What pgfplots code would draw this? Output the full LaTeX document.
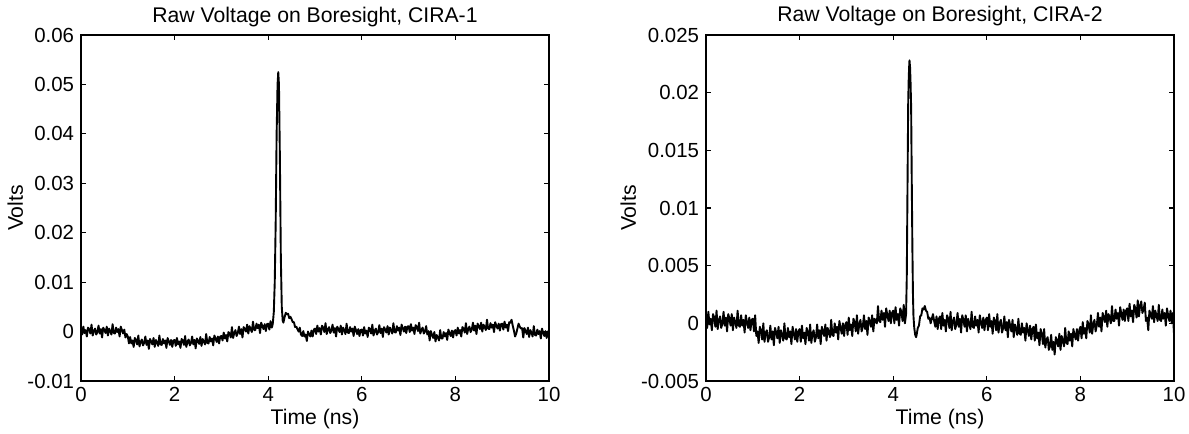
\documentclass[border=0pt]{standalone}
\usepackage{fontspec}
\setmainfont{Liberation Sans}
\usepackage{pgfplots}
\pgfplotsset{compat=1.18}
\begin{document}
\begin{tikzpicture}
\pgfplotsset{
  matlab/.style={
    scale only axis, width=234bp, height=173bp,
    xmin=0, xmax=10, xtick={0,2,4,6,8,10},
    axis line style={line width=0.8bp},
    every tick/.style={black, line width=0.6bp},
    major tick length=2.5bp,
    tick align=inside,
    tick label style={font=\fontsize{10.2bp}{12bp}\selectfont},
    /pgf/number format/assume math mode=true,
    scaled y ticks=false,
    yticklabel style={/pgf/number format/fixed, /pgf/number format/precision=3},
    xticklabel style={anchor=base, yshift=-10.25bp},
    every axis title shift=0pt,
    title style={at={(axis description cs:0.5,1)}, anchor=base, yshift=6.5bp, font=\fontsize{10.6bp}{12bp}\selectfont},
    xlabel style={at={(axis description cs:0.5,0)}, anchor=base, yshift=-21.5bp, font=\fontsize{10.6bp}{12bp}\selectfont},
    ylabel style={anchor=center, font=\fontsize{10.6bp}{12bp}\selectfont},
  }
}
\begin{axis}[matlab, at={(0,0)}, anchor=south west,
  ymin=-0.01, ymax=0.06, ytick={-0.01,0,0.01,0.02,0.03,0.04,0.05,0.06},
  title={Raw Voltage on Boresight, CIRA-1},
  xlabel={Time (ns)}, ylabel={Volts},
  ylabel style={at={(axis description cs:-0.1404,0.5)}}]
\addplot[black, line width=0.95bp, line join=round, mark=none] coordinates {
(0,0.0006)(0.025,-0.0006)(0.05,0.0010)(0.075,-0.0003)(0.1,0.0003)(0.125,-0.0010)(0.15,0.0008)(0.175,0.0005)(0.2,-0.0004)(0.225,0.0014)(0.25,-0.0008)(0.275,0.0001)(0.3,0.0006)(0.325,-0.0006)(0.35,-0.0001)(0.375,0.0012)(0.4,-0.0004)(0.425,0.0005)(0.45,-0.0012)(0.475,0.0008)(0.5,0.0003)(0.525,-0.0003)(0.55,0.0010)(0.575,-0.0008)(0.6,0.0006)(0.625,0.0001)(0.65,-0.0006)(0.675,0.0015)(0.7,-0.0003)(0.725,-0.0004)(0.75,0.0008)(0.775,-0.0001)(0.8,0.0005)(0.825,-0.0010)(0.85,0.0010)(0.875,0.0003)(0.9,-0.0004)(0.925,0.0004)(0.95,-0.0012)(0.975,-0.0005)
(1,-0.0010)(1.025,-0.0024)(1.05,-0.0011)(1.075,-0.0024)(1.1,-0.0018)(1.125,-0.0031)(1.15,-0.0013)(1.175,-0.0017)(1.2,-0.0026)(1.225,-0.0008)(1.25,-0.0030)(1.275,-0.0021)(1.3,-0.0016)(1.325,-0.0028)(1.35,-0.0023)(1.375,-0.0010)(1.4,-0.0027)(1.425,-0.0018)(1.45,-0.0035)(1.475,-0.0015)(1.5,-0.0020)(1.525,-0.0026)(1.55,-0.0013)(1.575,-0.0031)(1.6,-0.0017)(1.625,-0.0022)(1.65,-0.0029)(1.675,-0.0008)(1.7,-0.0026)(1.725,-0.0027)(1.75,-0.0015)(1.775,-0.0024)(1.8,-0.0018)(1.825,-0.0033)(1.85,-0.0013)(1.875,-0.0020)(1.9,-0.0027)(1.925,-0.0017)(1.95,-0.0031)(1.975,-0.0018)
(2,-0.0017)(2.025,-0.0029)(2.05,-0.0013)(2.075,-0.0026)(2.1,-0.0020)(2.125,-0.0033)(2.15,-0.0015)(2.175,-0.0018)(2.2,-0.0027)(2.225,-0.0009)(2.25,-0.0031)(2.275,-0.0021)(2.3,-0.0016)(2.325,-0.0028)(2.35,-0.0023)(2.375,-0.0010)(2.4,-0.0026)(2.425,-0.0017)(2.45,-0.0034)(2.475,-0.0014)(2.5,-0.0019)(2.525,-0.0025)(2.55,-0.0011)(2.575,-0.0029)(2.6,-0.0015)(2.625,-0.0020)(2.65,-0.0026)(2.675,-0.0005)(2.7,-0.0023)(2.725,-0.0024)(2.75,-0.0011)(2.775,-0.0020)(2.8,-0.0014)(2.825,-0.0028)(2.85,-0.0008)(2.875,-0.0014)(2.9,-0.0021)(2.925,-0.0010)(2.95,-0.0024)(2.975,-0.0010)
(3,-0.0009)(3.025,-0.0018)(3.05,-0.0002)(3.075,-0.0014)(3.1,-0.0007)(3.125,-0.0020)(3.15,-0.0001)(3.175,-0.0004)(3.2,-0.0012)(3.225,0.0009)(3.25,-0.0013)(3.275,-0.0003)(3.3,0.0003)(3.325,-0.0009)(3.35,-0.0003)(3.375,0.0010)(3.4,-0.0005)(3.425,0.0005)(3.45,-0.0012)(3.475,0.0009)(3.5,0.0005)(3.525,0)(3.55,0.0014)(3.575,-0.0004)(3.6,0.0011)(3.625,0.0005)(3.65,-0.0001)(3.675,0.0020)(3.7,0.0003)(3.725,0.0003)(3.75,0.0016)(3.775,0.0007)(3.8,0.0014)(3.825,-0.0003)(3.85,0.0018)(3.875,0.0011)(3.9,0.0005)(3.925,0.0015)(3.95,0.0001)(3.975,0.0015)
(4,0.0016)(4.025,0.0004)(4.05,0.0021)(4.075,0.0008)(4.09,0.0012)(4.1,0.0018)(4.12,0.0040)(4.14,0.0100)(4.16,0.0220)(4.18,0.0400)(4.2,0.0500)(4.215,0.0525)(4.23,0.0500)(4.25,0.0350)(4.27,0.0150)(4.29,0.0050)(4.31,0.0022)(4.325,0.0018)(4.35,0.0029)(4.375,0.0038)(4.4,0.0035)(4.425,0.0036)(4.45,0.0027)(4.475,0.0030)(4.5,0.0025)(4.525,0.0019)(4.55,0.0019)(4.575,0.0009)(4.6,0.0010)(4.625,0.0005)(4.65,0)(4.675,0.0008)(4.7,-0.0006)(4.725,-0.0009)(4.75,0.0001)(4.775,-0.0010)(4.8,-0.0006)(4.825,-0.0019)(4.85,0)(4.875,-0.0005)(4.9,-0.0010)(4.925,0.0002)(4.95,-0.0010)(4.975,0.0004)
(5,0.0006)(5.025,-0.0005)(5.05,0.0012)(5.075,0)(5.1,0.0007)(5.125,-0.0006)(5.15,0.0012)(5.175,0.0008)(5.2,-0.0001)(5.225,0.0017)(5.25,-0.0005)(5.275,0.0004)(5.3,0.0009)(5.325,-0.0003)(5.35,0.0002)(5.375,0.0014)(5.4,-0.0002)(5.425,0.0007)(5.45,-0.0010)(5.475,0.0010)(5.5,0.0005)(5.525,-0.0001)(5.55,0.0012)(5.575,-0.0006)(5.6,0.0008)(5.625,0.0003)(5.65,-0.0005)(5.675,0.0016)(5.7,-0.0002)(5.725,-0.0003)(5.75,0.0009)(5.775,0)(5.8,0.0006)(5.825,-0.0009)(5.85,0.0010)(5.875,0.0003)(5.9,-0.0005)(5.925,0.0005)(5.95,-0.0009)(5.975,0.0003)
(6,0.0004)(6.025,-0.0008)(6.05,0.0009)(6.075,-0.0004)(6.1,0.0002)(6.125,-0.0011)(6.15,0.0008)(6.175,0.0005)(6.2,-0.0004)(6.225,0.0014)(6.25,-0.0008)(6.275,0.0001)(6.3,0.0006)(6.325,-0.0006)(6.35,-0.0001)(6.375,0.0013)(6.4,-0.0003)(6.425,0.0006)(6.45,-0.0011)(6.475,0.0009)(6.5,0.0004)(6.525,-0.0002)(6.55,0.0011)(6.575,-0.0006)(6.6,0.0008)(6.625,0.0003)(6.65,-0.0004)(6.675,0.0017)(6.7,-0.0001)(6.725,-0.0002)(6.75,0.0011)(6.775,0.0002)(6.8,0.0008)(6.825,-0.0007)(6.85,0.0014)(6.875,0.0007)(6.9,0)(6.925,0.0010)(6.95,-0.0003)(6.975,0.0010)
(7,0.0011)(7.025,-0.0001)(7.05,0.0015)(7.075,0.0002)(7.1,0.0008)(7.125,-0.0005)(7.15,0.0013)(7.175,0.0010)(7.2,0.0001)(7.225,0.0018)(7.25,-0.0004)(7.275,0.0004)(7.3,0.0008)(7.325,-0.0004)(7.35,0)(7.375,0.0011)(7.4,-0.0006)(7.425,0.0001)(7.45,-0.0018)(7.475,0.0001)(7.5,-0.0006)(7.525,-0.0013)(7.55,-0.0001)(7.575,-0.0020)(7.6,-0.0007)(7.625,-0.0012)(7.65,-0.0018)(7.675,0.0003)(7.7,-0.0014)(7.725,-0.0014)(7.75,-0.0001)(7.775,-0.0010)(7.8,-0.0003)(7.825,-0.0017)(7.85,0.0004)(7.875,-0.0003)(7.9,-0.0009)(7.925,0.0002)(7.95,-0.0012)(7.975,0.0001)
(8,0.0003)(8.025,-0.0008)(8.05,0.0008)(8.075,-0.0004)(8.1,0.0003)(8.125,-0.0010)(8.15,0.0009)(8.175,0.0006)(8.2,-0.0002)(8.225,0.0017)(8.25,-0.0005)(8.275,0.0005)(8.3,0.0010)(8.325,-0.0001)(8.35,0.0004)(8.375,0.0018)(8.4,0.0002)(8.425,0.0012)(8.45,-0.0005)(8.475,0.0016)(8.5,0.0011)(8.525,0.0005)(8.55,0.0018)(8.575,0)(8.6,0.0014)(8.625,0.0009)(8.65,0.0003)(8.675,0.0024)(8.7,0.0006)(8.725,0.0005)(8.75,0.0017)(8.775,0.0008)(8.8,0.0014)(8.825,-0.0001)(8.85,0.0019)(8.875,0.0012)(8.9,0.0006)(8.925,0.0016)(8.95,0.0002)(8.975,0.0015)
(9,0.0016)(9.025,0.0004)(9.05,0.0020)(9.075,0.0008)(9.1,0.0014)(9.125,0.0001)(9.15,0.0019)(9.175,0.0018)(9.2,0.0024)(9.225,0.0012)(9.25,0.0002)(9.275,-0.0010)(9.3,-0.0004)(9.325,0.0006)(9.35,0.0016)(9.375,0.0010)(9.4,0.0006)(9.425,0.0007)(9.45,-0.0012)(9.475,0.0007)(9.5,0.0001)(9.525,-0.0005)(9.55,0.0008)(9.575,-0.0011)(9.6,0.0003)(9.625,-0.0002)(9.65,-0.0010)(9.675,0.0011)(9.7,-0.0007)(9.725,-0.0008)(9.75,0.0004)(9.775,-0.0005)(9.8,0.0001)(9.825,-0.0014)(9.85,0.0006)(9.875,-0.0002)(9.9,-0.0009)(9.925,0.0001)(9.95,-0.0013)(9.975,0)(10,0.0001)
};
\end{axis}
\begin{axis}[matlab, at={(312.5bp,0)}, anchor=south west,
  ymin=-0.005, ymax=0.025, ytick={-0.005,0,0.005,0.01,0.015,0.02,0.025},
  title={Raw Voltage on Boresight, CIRA-2},
  xlabel={Time (ns)}, ylabel={Volts},
  ylabel style={at={(axis description cs:-0.166,0.5)}}]
\addplot[black, line width=0.95bp, line join=round, mark=none] coordinates {
(0,-0.0002)(0.025,-0.0004)(0.05,0.0010)(0.075,-0.0001)(0.1,0.0004)(0.125,-0.0006)(0.15,0.0008)(0.175,0.0005)(0.2,-0.0003)(0.225,0.0011)(0.25,-0.0005)(0.275,0.0003)(0.3,0.0006)(0.325,-0.0004)(0.35,0)(0.375,0.0010)(0.4,-0.0002)(0.425,0.0005)(0.45,-0.0007)(0.475,0.0008)(0.5,0.0004)(0.525,-0.0002)(0.55,0.0008)(0.575,-0.0006)(0.6,0.0005)(0.625,0.0001)(0.65,-0.0004)(0.675,0.0011)(0.7,-0.0002)(0.725,-0.0003)(0.75,0.0007)(0.775,-0.0002)(0.8,0.0003)(0.825,-0.0008)(0.85,0.0007)(0.875,0.0001)(0.9,-0.0004)(0.925,0.0005)(0.95,-0.0006)(0.975,0.0003)
(1,0.0004)(1.025,-0.0007)(1.05,0.0007)(1.075,-0.0011)(1.1,-0.0007)(1.125,-0.0017)(1.15,-0.0003)(1.175,-0.0006)(1.2,-0.0014)(1.225,0)(1.25,-0.0016)(1.275,-0.0008)(1.3,-0.0006)(1.325,-0.0016)(1.35,-0.0012)(1.375,-0.0002)(1.4,-0.0014)(1.425,-0.0007)(1.45,-0.0019)(1.475,-0.0004)(1.5,-0.0008)(1.525,-0.0013)(1.55,-0.0003)(1.575,-0.0017)(1.6,-0.0006)(1.625,-0.0010)(1.65,-0.0015)(1.675,0)(1.7,-0.0013)(1.725,-0.0014)(1.75,-0.0004)(1.775,-0.0012)(1.8,-0.0007)(1.825,-0.0018)(1.85,-0.0003)(1.875,-0.0009)(1.9,-0.0014)(1.925,-0.0005)(1.95,-0.0016)(1.975,-0.0007)
(2,-0.0005)(2.025,-0.0016)(2.05,-0.0002)(2.075,-0.0013)(2.1,-0.0008)(2.125,-0.0018)(2.15,-0.0004)(2.175,-0.0007)(2.2,-0.0015)(2.225,-0.0001)(2.25,-0.0017)(2.275,-0.0009)(2.3,-0.0006)(2.325,-0.0016)(2.35,-0.0012)(2.375,-0.0001)(2.4,-0.0013)(2.425,-0.0006)(2.45,-0.0018)(2.475,-0.0003)(2.5,-0.0007)(2.525,-0.0011)(2.55,-0.0001)(2.575,-0.0015)(2.6,-0.0004)(2.625,-0.0008)(2.65,-0.0012)(2.675,0.0003)(2.7,-0.0010)(2.725,-0.0011)(2.75,0)(2.775,-0.0008)(2.8,-0.0003)(2.825,-0.0014)(2.85,0.0002)(2.875,-0.0004)(2.9,-0.0009)(2.925,0)(2.95,-0.0011)(2.975,-0.0001)
(3,0.0001)(3.025,-0.0010)(3.05,0.0005)(3.075,-0.0006)(3.1,-0.0001)(3.125,-0.0011)(3.15,0.0004)(3.175,0.0001)(3.2,-0.0007)(3.225,0.0007)(3.25,-0.0009)(3.275,-0.0001)(3.3,0.0003)(3.325,-0.0007)(3.35,-0.0003)(3.375,0.0007)(3.4,-0.0005)(3.425,0.0002)(3.45,-0.0010)(3.475,0.0005)(3.5,0.0002)(3.525,-0.0003)(3.55,0.0007)(3.575,-0.0007)(3.6,0.0004)(3.625,0.0002)(3.65,0)(3.675,0.0015)(3.7,0.0002)(3.725,0.0001)(3.75,0.0011)(3.775,0.0003)(3.8,0.0009)(3.825,-0.0003)(3.85,0.0013)(3.875,0.0007)(3.9,0.0002)(3.925,0.0011)(3.95,0)(3.975,0.0009)
(4,0.0011)(4.025,0)(4.05,0.0014)(4.075,0.0003)(4.1,0.0008)(4.125,-0.0002)(4.15,0.0013)(4.175,0.0010)(4.2,0.0002)(4.225,0.0016)(4.25,0)(4.275,0.0008)(4.29,0.0040)(4.3,0.0090)(4.31,0.0140)(4.32,0.0190)(4.33,0.0210)(4.34,0.0222)(4.348,0.0228)(4.36,0.0222)(4.37,0.0210)(4.383,0.0188)(4.395,0.0130)(4.41,0.0065)(4.422,0.0025)(4.433,0.0006)(4.45,-0.0004)(4.47,-0.0010)(4.49,-0.0012)(4.5,-0.0010)(4.525,-0.0004)(4.55,-0.0002)(4.575,0.0006)(4.6,0.0007)(4.625,0.0013)(4.65,0.0012)(4.675,0.0015)(4.7,0.0011)(4.725,0.0010)(4.75,0.0004)(4.775,0.0005)(4.8,0)(4.825,0.0004)(4.85,0.0008)(4.875,0.0002)(4.9,-0.0003)(4.925,0.0006)(4.95,-0.0005)(4.975,0.0004)
(5,0.0006)(5.025,-0.0005)(5.05,0.0009)(5.075,-0.0002)(5.1,0.0003)(5.125,-0.0007)(5.15,0.0007)(5.175,0.0004)(5.2,-0.0004)(5.225,0.0010)(5.25,-0.0006)(5.275,0.0002)(5.3,0.0005)(5.325,-0.0005)(5.35,-0.0001)(5.375,0.0009)(5.4,-0.0003)(5.425,0.0004)(5.45,-0.0008)(5.475,0.0007)(5.5,0.0003)(5.525,-0.0003)(5.55,0.0007)(5.575,-0.0007)(5.6,0.0004)(5.625,0)(5.65,-0.0005)(5.675,0.0010)(5.7,-0.0003)(5.725,-0.0004)(5.75,0.0006)(5.775,-0.0002)(5.8,0.0003)(5.825,-0.0008)(5.85,0.0007)(5.875,0.0001)(5.9,-0.0004)(5.925,0.0005)(5.95,-0.0006)(5.975,0.0003)
(6,0.0005)(6.025,-0.0006)(6.05,0.0008)(6.075,-0.0003)(6.1,0.0002)(6.125,-0.0009)(6.15,0.0005)(6.175,0.0002)(6.2,-0.0006)(6.225,0.0008)(6.25,-0.0008)(6.275,0)(6.3,0.0003)(6.325,-0.0008)(6.35,-0.0004)(6.375,0.0006)(6.4,-0.0006)(6.425,0.0001)(6.45,-0.0012)(6.475,0.0003)(6.5,-0.0002)(6.525,-0.0007)(6.55,0.0003)(6.575,-0.0012)(6.6,-0.0001)(6.625,-0.0005)(6.65,-0.0010)(6.675,0.0004)(6.7,-0.0009)(6.725,-0.0010)(6.75,0)(6.775,-0.0008)(6.8,-0.0004)(6.825,-0.0015)(6.85,0)(6.875,-0.0006)(6.9,-0.0011)(6.925,-0.0002)(6.95,-0.0014)(6.975,-0.0005)
(7,-0.0003)(7.025,-0.0015)(7.05,-0.0001)(7.075,-0.0013)(7.1,-0.0008)(7.125,-0.0019)(7.15,-0.0005)(7.175,-0.0009)(7.2,-0.0018)(7.225,-0.0005)(7.25,-0.0021)(7.275,-0.0014)(7.3,-0.0012)(7.325,-0.0023)(7.35,-0.0020)(7.375,-0.0010)(7.4,-0.0023)(7.425,-0.0016)(7.45,-0.0027)(7.475,-0.0012)(7.5,-0.0015)(7.525,-0.0020)(7.55,-0.0009)(7.575,-0.0023)(7.6,-0.0011)(7.625,-0.0015)(7.65,-0.0020)(7.675,-0.0004)(7.7,-0.0017)(7.725,-0.0018)(7.75,-0.0007)(7.775,-0.0015)(7.8,-0.0009)(7.825,-0.0020)(7.85,-0.0005)(7.875,-0.0010)(7.9,-0.0014)(7.925,-0.0005)(7.95,-0.0015)(7.975,-0.0006)
(8,-0.0003)(8.025,-0.0013)(8.05,0.0001)(8.075,-0.0009)(8.1,-0.0004)(8.125,-0.0013)(8.15,0.0002)(8.175,-0.0001)(8.2,-0.0008)(8.225,0.0007)(8.25,-0.0009)(8.275,-0.0001)(8.3,0.0003)(8.325,-0.0007)(8.35,-0.0002)(8.375,0.0009)(8.4,-0.0003)(8.425,0.0005)(8.45,-0.0007)(8.475,0.0009)(8.5,0.0005)(8.525,0.0001)(8.55,0.0011)(8.575,-0.0003)(8.6,0.0008)(8.625,0.0005)(8.65,0)(8.675,0.0015)(8.7,0.0002)(8.725,0.0002)(8.75,0.0012)(8.775,0.0004)(8.8,0.0009)(8.825,-0.0002)(8.85,0.0014)(8.875,0.0008)(8.9,0.0003)(8.925,0.0012)(8.95,0.0002)(8.975,0.0011)
(9,0.0013)(9.025,0.0002)(9.05,0.0017)(9.075,0.0006)(9.1,0.0011)(9.125,0.0001)(9.15,0.0016)(9.175,0.0013)(9.2,0.0005)(9.225,0.0020)(9.25,0.0006)(9.275,0.0015)(9.3,0.0019)(9.325,0.0009)(9.35,0.0012)(9.375,0.0018)(9.4,0.0002)(9.425,0.0005)(9.45,-0.0006)(9.475,0.0011)(9.5,0.0008)(9.525,0.0004)(9.55,0.0015)(9.575,0.0001)(9.6,0.0011)(9.625,0.0007)(9.65,0.0002)(9.675,0.0016)(9.7,0.0003)(9.725,0.0002)(9.75,0.0012)(9.775,0.0004)(9.8,0.0009)(9.825,-0.0002)(9.85,0.0013)(9.875,0.0007)(9.9,0.0002)(9.925,0.0011)(9.95,0)(9.975,0.0009)(10,-0.0009)
};
\end{axis}
\pgfresetboundingbox
\path[use as bounding box] (-40.5bp,-26.5bp) rectangle (554bp,190.5bp);
\end{tikzpicture}
\end{document}
